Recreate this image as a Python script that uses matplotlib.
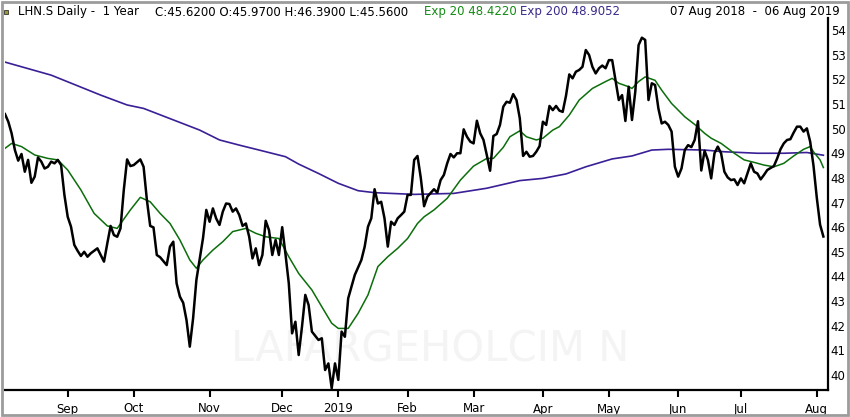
import matplotlib
matplotlib.use("Agg")
import matplotlib.pyplot as plt
from matplotlib.patches import Rectangle
import pandas as pd

# trading calendar (SIX), Aug 2018 - Aug 2019
holidays = ['2018-12-24', '2018-12-25', '2018-12-26', '2018-12-31', '2019-01-01',
            '2019-01-02', '2019-04-19', '2019-04-22', '2019-05-01', '2019-05-30',
            '2019-06-10', '2019-08-01']
sessions = pd.bdate_range('2018-08-07', '2019-08-06')
sessions = sessions[~sessions.isin(pd.to_datetime(holidays))]

# daily close, indexed by trading day number
close_day = [0, 1, 2, 3, 4, 5, 6, 7, 8, 9, 10, 11, 12, 13, 14, 15, 16, 17, 18, 19,
             20, 21, 22, 23, 24, 25, 26, 28, 29, 30, 31, 32, 33, 34, 35, 36, 37, 38, 39, 41,
             42, 43, 44, 45, 46, 47, 49, 50, 51, 52, 53, 54, 55, 56, 57, 58, 60, 61, 62, 63,
             64, 65, 66, 67, 68, 69, 70, 71, 72, 73, 74, 75, 76, 77, 78, 79, 80, 81, 82, 83,
             84, 85, 86, 87, 88, 89, 90, 91, 92, 93, 95, 96, 97, 98, 99, 100, 101, 102, 103, 104,
             106, 108, 109, 110, 111, 112, 113, 114, 115, 116, 117, 118, 119, 120, 121, 122, 123, 124, 125, 126,
             127, 128, 130, 131, 132, 133, 134, 135, 136, 137, 138, 139, 140, 141, 142, 143, 144, 145, 146, 147,
             148, 149, 150, 151, 152, 153, 154, 155, 156, 157, 158, 159, 160, 161, 162, 163, 164, 165, 166, 167,
             168, 169, 170, 171, 172, 173, 174, 175, 176, 177, 178, 179, 180, 181, 182, 183, 184, 185, 186, 187,
             188, 189, 190, 191, 192, 193, 194, 195, 196, 197, 198, 199, 200, 201, 202, 203, 204, 205, 206, 207,
             208, 209, 210, 211, 212, 213, 214, 215, 216, 217, 218, 219, 220, 221, 222, 223, 224, 225, 226, 227,
             228, 229, 230, 231, 233, 234, 235, 236, 237, 238, 239, 240, 241, 242, 243, 244, 245, 246, 247, 248]
close = [50.59, 50.28, 49.81, 49.13, 48.70, 48.97, 48.25, 48.73, 47.80, 48.05,
         48.83, 48.66, 48.38, 48.45, 48.66, 48.59, 48.73, 48.52, 47.31, 46.42,
         46.02, 45.28, 45.04, 44.83, 45.00, 44.80, 44.94, 45.14, 44.87, 44.60,
         45.34, 46.05, 45.68, 45.61, 45.95, 47.51, 48.75, 48.48, 48.52, 48.75,
         48.45, 47.10, 46.05, 45.99, 44.87, 44.78, 44.46, 45.21, 45.41, 43.72,
         43.18, 42.93, 42.23, 41.15, 42.30, 43.86, 45.55, 46.70, 46.22, 46.76,
         46.35, 46.09, 46.63, 46.96, 46.94, 46.63, 46.76, 46.49, 46.05, 46.15,
         45.61, 44.73, 45.14, 44.46, 44.87, 46.26, 45.88, 44.87, 45.48, 44.87,
         46.00, 44.90, 43.72, 41.69, 42.16, 40.81, 41.96, 43.25, 42.84, 41.76,
         41.42, 41.49, 40.20, 40.47, 39.46, 40.47, 39.80, 41.76, 41.55, 43.11,
         44.06, 44.67, 45.21, 46.02, 46.36, 47.54, 46.96, 47.03, 46.36, 45.21,
         46.22, 46.09, 46.36, 46.49, 46.63, 47.31, 47.31, 48.73, 48.89, 48.00,
         46.85, 47.24, 47.54, 47.40, 47.91, 48.12, 48.59, 48.97, 48.83, 49.00,
         49.00, 49.97, 49.67, 49.47, 49.40, 50.32, 49.81, 49.54, 48.93, 48.29,
         49.70, 49.78, 50.15, 50.89, 51.09, 51.05, 51.40, 51.16, 50.42, 48.89,
         49.06, 48.86, 48.89, 49.06, 49.29, 50.28, 50.15, 50.92, 50.75, 50.92,
         50.73, 50.68, 51.33, 52.20, 52.04, 52.31, 52.38, 52.51, 53.19, 52.99,
         52.51, 52.24, 52.45, 52.56, 52.45, 52.78, 52.78, 51.96, 51.16, 51.36,
         50.31, 51.70, 50.35, 51.50, 53.39, 53.69, 53.60, 51.16, 51.84, 51.77,
         50.82, 50.21, 50.28, 50.15, 49.88, 48.45, 48.05, 48.38, 49.13, 49.33,
         49.25, 49.54, 50.30, 48.30, 49.10, 48.73, 47.98, 49.00, 49.27, 49.00,
         48.25, 48.02, 47.91, 47.94, 47.71, 47.98, 47.78, 48.18, 48.59, 48.25,
         48.18, 47.94, 48.12, 48.32, 48.48, 48.79, 49.16, 49.40, 49.54, 49.57,
         49.84, 50.08, 50.08, 49.88, 50.01, 49.47, 48.50, 47.20, 46.10, 45.62]

# exponential moving averages
ema20_day = [0, 2, 5, 9, 13, 16, 19, 23, 27, 31, 34, 38, 41, 44, 47, 50, 53, 56, 58, 60,
             63, 66, 69, 73, 76, 79, 83, 86, 89, 93, 96, 99, 101, 104, 107, 110, 113, 116, 119, 122,
             125, 127, 130, 134, 138, 142, 146, 148, 151, 153, 156, 158, 161, 163, 166, 168, 171, 174, 178, 182,
             184, 186, 189, 190, 192, 194, 197, 199, 202, 206, 209, 212, 214, 217, 221, 224, 227, 230, 233, 236,
             239, 242, 244, 245, 247, 248]
ema20 = [49.20, 49.40, 49.27, 48.93, 48.79, 48.73, 48.32, 47.51, 46.56, 46.05,
         45.95, 46.70, 47.21, 47.03, 46.56, 46.15, 45.48, 44.67, 44.33, 44.67,
         45.07, 45.41, 45.82, 45.95, 45.75, 45.61, 45.54, 44.80, 44.12, 43.45,
         42.77, 42.10, 41.89, 41.89, 42.50, 43.25, 44.40, 44.80, 45.14, 45.54,
         46.15, 46.42, 46.70, 47.17, 47.91, 48.48, 48.79, 48.79, 49.24, 49.67,
         49.91, 49.67, 49.54, 49.61, 49.94, 50.08, 50.55, 51.16, 51.63, 51.91,
         52.04, 51.84, 51.70, 51.63, 51.91, 52.10, 51.96, 51.56, 51.02, 50.48,
         50.17, 49.81, 49.61, 49.40, 49.00, 48.73, 48.63, 48.52, 48.45, 48.59,
         48.89, 49.16, 49.27, 49.06, 48.73, 48.42]

ema200_day = [0, 14, 29, 37, 42, 59, 65, 71, 77, 85, 89, 95, 101, 107, 112, 117, 124, 136, 146, 156,
              163, 170, 176, 184, 190, 196, 201, 212, 218, 228, 236, 243, 248]
ema200 = [52.70, 52.17, 51.36, 50.96, 50.82, 49.94, 49.54, 49.33, 49.13, 48.86,
          48.56, 48.18, 47.78, 47.48, 47.40, 47.37, 47.33, 47.37, 47.58, 47.89,
          47.98, 48.16, 48.45, 48.77, 48.89, 49.13, 49.16, 49.13, 49.06, 49.00,
          49.00, 49.03, 48.92]

y_ticks = list(range(40, 55))

# month ticks at the first session of each month
month_pos = [i for i in range(1, len(sessions)) if sessions[i].month != sessions[i - 1].month]
month_lab = [sessions[i].strftime('%Y') if sessions[i].month == 1 else sessions[i].strftime('%b')
             for i in month_pos]

fig = plt.figure(figsize=(8.5, 4.17), dpi=100)
ax = fig.add_axes([5 / 850, 27 / 417, 823 / 850, 372 / 417])

# faint watermark, behind the lines
ax.text(430 / 850, 1 - 350 / 417, 'LAFARGEHOLCIM N', fontsize=30, color='#f4f4f4',
        ha='center', va='center', transform=fig.transFigure, zorder=0)

ax.plot(ema200_day, ema200, color='#3a1f96', lw=1.2)
ax.plot(ema20_day, ema20, color='#0b6e0b', lw=1.1)
ax.plot(close_day, close, color='black', lw=1.8)

ax.set_xlim(0, 249.4)
ax.set_ylim(39.39, 54.49)

for s in ['left', 'top']:
    ax.spines[s].set_visible(False)
for s in ['bottom', 'right']:
    ax.spines[s].set_linewidth(1.6)

ax.yaxis.tick_right()
ax.set_yticks(y_ticks)
ax.tick_params(axis='y', length=0, pad=2, labelsize=8.5)
ax.set_xticks(month_pos)
ax.set_xticklabels(month_lab)
ax.tick_params(axis='x', length=5, width=1.5, pad=4, labelsize=8.5)

# header line
hy = 1 - 12 / 417
fig.patches.append(Rectangle((4 / 850, 1 - 14 / 417), 4 / 850, 4 / 417, transform=fig.transFigure,
                             facecolor='#9a9a30', edgecolor='#333333', lw=0.6))
fig.text(18 / 850, hy, 'LHN.S Daily -  1 Year', fontsize=8.5, va='center')
fig.text(155 / 850, hy, 'C:45.6200 O:45.9700 H:46.3900 L:45.5600', fontsize=8.5, va='center')
fig.text(424 / 850, hy, 'Exp 20 48.4220', fontsize=8.5, va='center', color='#138a13')
fig.text(520 / 850, hy, 'Exp 200 48.9052', fontsize=8.5, va='center', color='#3a2a8a')
fig.text(840 / 850, hy, '07 Aug 2018  -  06 Aug 2019', fontsize=8.5, va='center', ha='right')

# grey outer frame
fig.patches.append(Rectangle((0.002, 0.004), 0.996, 0.992, transform=fig.transFigure,
                             fill=False, edgecolor='#9c9c9c', lw=2))

fig.savefig('out.png', dpi=100)
